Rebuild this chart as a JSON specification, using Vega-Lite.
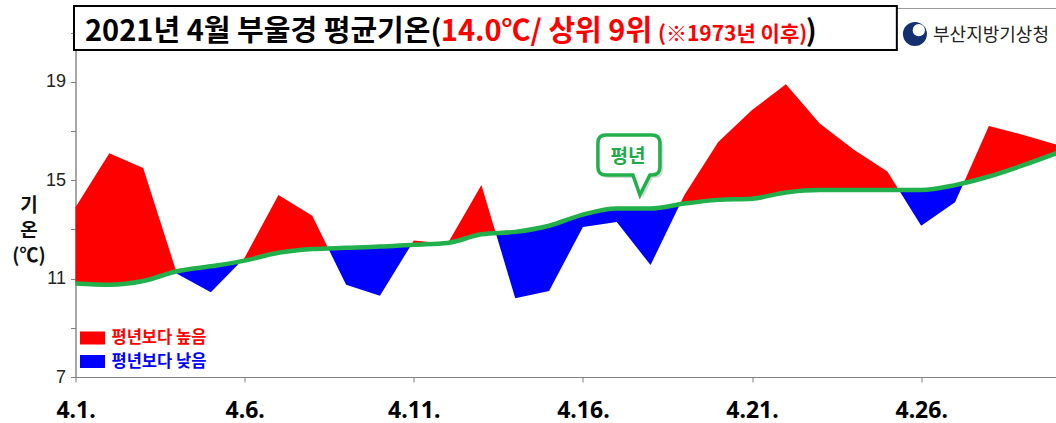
{
  "$schema": "https://vega.github.io/schema/vega-lite/v6.json",
  "width": 981,
  "height": 369,
  "autosize": {"type": "none"},
  "padding": {"left": 75.5, "top": 8, "right": 0, "bottom": 46},
  "background": "white",
  "config": {"view": {"stroke": "#9a9a9a", "strokeWidth": 1}, "font": "Noto Sans CJK KR"},
  "datasets": {
    "daily": [
      {"day": 1, "actual": 13.9, "normal": 10.8},
      {"day": 2, "actual": 16.1, "normal": 10.75},
      {"day": 3, "actual": 15.5, "normal": 10.9},
      {"day": 4, "actual": 11.2, "normal": 11.3},
      {"day": 5, "actual": 10.45, "normal": 11.5},
      {"day": 6, "actual": 11.85, "normal": 11.73},
      {"day": 7, "actual": 14.4, "normal": 12.05},
      {"day": 8, "actual": 13.55, "normal": 12.2},
      {"day": 9, "actual": 10.75, "normal": 12.25},
      {"day": 10, "actual": 10.3, "normal": 12.3},
      {"day": 11, "actual": 12.55, "normal": 12.38},
      {"day": 12, "actual": 12.42, "normal": 12.45},
      {"day": 13, "actual": 14.8, "normal": 12.8},
      {"day": 14, "actual": 10.2, "normal": 12.9},
      {"day": 15, "actual": 10.5, "normal": 13.15},
      {"day": 16, "actual": 13.1, "normal": 13.6},
      {"day": 17, "actual": 13.3, "normal": 13.85},
      {"day": 18, "actual": 11.55, "normal": 13.85},
      {"day": 19, "actual": 14.4, "normal": 14.05},
      {"day": 20, "actual": 16.55, "normal": 14.2},
      {"day": 21, "actual": 17.85, "normal": 14.25},
      {"day": 22, "actual": 18.9, "normal": 14.5},
      {"day": 23, "actual": 17.3, "normal": 14.6},
      {"day": 24, "actual": 16.25, "normal": 14.6},
      {"day": 25, "actual": 15.35, "normal": 14.6},
      {"day": 26, "actual": 13.15, "normal": 14.6},
      {"day": 27, "actual": 14.1, "normal": 14.8},
      {"day": 28, "actual": 17.2, "normal": 15.15},
      {"day": 29, "actual": 16.85, "normal": 15.6},
      {"day": 30, "actual": 16.45, "normal": 16.1}
    ],
    "bands": [
      {"seg": "A", "kind": "평년보다 높음", "day": 1, "actual": 13.9, "normal": 10.8},
      {"seg": "A", "kind": "평년보다 높음", "day": 2, "actual": 16.1, "normal": 10.75},
      {"seg": "A", "kind": "평년보다 높음", "day": 3, "actual": 15.5, "normal": 10.9},
      {"seg": "A", "kind": "평년보다 높음", "day": 3.979, "actual": 11.29, "normal": 11.29},
      {"seg": "B", "kind": "평년보다 낮음", "day": 3.979, "actual": 11.29, "normal": 11.29},
      {"seg": "B", "kind": "평년보다 낮음", "day": 4, "actual": 11.2, "normal": 11.3},
      {"seg": "B", "kind": "평년보다 낮음", "day": 5, "actual": 10.45, "normal": 11.5},
      {"seg": "B", "kind": "평년보다 낮음", "day": 5.897, "actual": 11.71, "normal": 11.71},
      {"seg": "C", "kind": "평년보다 높음", "day": 5.897, "actual": 11.71, "normal": 11.71},
      {"seg": "C", "kind": "평년보다 높음", "day": 6, "actual": 11.85, "normal": 11.73},
      {"seg": "C", "kind": "평년보다 높음", "day": 7, "actual": 14.4, "normal": 12.05},
      {"seg": "C", "kind": "평년보다 높음", "day": 8, "actual": 13.55, "normal": 12.2},
      {"seg": "C", "kind": "평년보다 높음", "day": 8.474, "actual": 12.22, "normal": 12.22},
      {"seg": "D", "kind": "평년보다 낮음", "day": 8.474, "actual": 12.22, "normal": 12.22},
      {"seg": "D", "kind": "평년보다 낮음", "day": 9, "actual": 10.75, "normal": 12.25},
      {"seg": "D", "kind": "평년보다 낮음", "day": 10, "actual": 10.3, "normal": 12.3},
      {"seg": "D", "kind": "평년보다 낮음", "day": 10.922, "actual": 12.37, "normal": 12.37},
      {"seg": "E", "kind": "평년보다 높음", "day": 10.922, "actual": 12.37, "normal": 12.37},
      {"seg": "E", "kind": "평년보다 높음", "day": 11, "actual": 12.55, "normal": 12.38},
      {"seg": "E", "kind": "평년보다 높음", "day": 11.85, "actual": 12.44, "normal": 12.44},
      {"seg": "F", "kind": "평년보다 낮음", "day": 11.85, "actual": 12.44, "normal": 12.44},
      {"seg": "F", "kind": "평년보다 낮음", "day": 12, "actual": 12.42, "normal": 12.45},
      {"seg": "F", "kind": "평년보다 낮음", "day": 12.015, "actual": 12.455, "normal": 12.455},
      {"seg": "G", "kind": "평년보다 높음", "day": 12.015, "actual": 12.455, "normal": 12.455},
      {"seg": "G", "kind": "평년보다 높음", "day": 13, "actual": 14.8, "normal": 12.8},
      {"seg": "G", "kind": "평년보다 높음", "day": 13.426, "actual": 12.84, "normal": 12.84},
      {"seg": "H", "kind": "평년보다 낮음", "day": 13.426, "actual": 12.84, "normal": 12.84},
      {"seg": "H", "kind": "평년보다 낮음", "day": 14, "actual": 10.2, "normal": 12.9},
      {"seg": "H", "kind": "평년보다 낮음", "day": 15, "actual": 10.5, "normal": 13.15},
      {"seg": "H", "kind": "평년보다 낮음", "day": 16, "actual": 13.1, "normal": 13.6},
      {"seg": "H", "kind": "평년보다 낮음", "day": 17, "actual": 13.3, "normal": 13.85},
      {"seg": "H", "kind": "평년보다 낮음", "day": 18, "actual": 11.55, "normal": 13.85},
      {"seg": "H", "kind": "평년보다 낮음", "day": 18.868, "actual": 14.02, "normal": 14.02},
      {"seg": "I", "kind": "평년보다 높음", "day": 18.868, "actual": 14.02, "normal": 14.02},
      {"seg": "I", "kind": "평년보다 높음", "day": 19, "actual": 14.4, "normal": 14.05},
      {"seg": "I", "kind": "평년보다 높음", "day": 20, "actual": 16.55, "normal": 14.2},
      {"seg": "I", "kind": "평년보다 높음", "day": 21, "actual": 17.85, "normal": 14.25},
      {"seg": "I", "kind": "평년보다 높음", "day": 22, "actual": 18.9, "normal": 14.5},
      {"seg": "I", "kind": "평년보다 높음", "day": 23, "actual": 17.3, "normal": 14.6},
      {"seg": "I", "kind": "평년보다 높음", "day": 24, "actual": 16.25, "normal": 14.6},
      {"seg": "I", "kind": "평년보다 높음", "day": 25, "actual": 15.35, "normal": 14.6},
      {"seg": "I", "kind": "평년보다 높음", "day": 25.341, "actual": 14.6, "normal": 14.6},
      {"seg": "J", "kind": "평년보다 낮음", "day": 25.341, "actual": 14.6, "normal": 14.6},
      {"seg": "J", "kind": "평년보다 낮음", "day": 26, "actual": 13.15, "normal": 14.6},
      {"seg": "J", "kind": "평년보다 낮음", "day": 27, "actual": 14.1, "normal": 14.8},
      {"seg": "J", "kind": "평년보다 낮음", "day": 27.255, "actual": 14.89, "normal": 14.89},
      {"seg": "K", "kind": "평년보다 높음", "day": 27.255, "actual": 14.89, "normal": 14.89},
      {"seg": "K", "kind": "평년보다 높음", "day": 28, "actual": 17.2, "normal": 15.15},
      {"seg": "K", "kind": "평년보다 높음", "day": 29, "actual": 16.85, "normal": 15.6},
      {"seg": "K", "kind": "평년보다 높음", "day": 30, "actual": 16.45, "normal": 16.1}
    ]
  },
  "layer": [
    {
      "data": {"name": "bands"},
      "mark": {"type": "area", "interpolate": "linear", "opacity": 1, "strokeWidth": 0},
      "encoding": {
        "x": {
          "field": "day", "type": "quantitative",
          "scale": {"domain": [1, 30], "nice": false, "zero": false},
          "axis": {
            "values": [1, 6, 11, 16, 21, 26],
            "labelExpr": "'4.' + datum.value + '.'",
            "title": null, "grid": false, "labelFlush": false, "labelOverlap": false,
            "labelFont": "Noto Sans", "labelFontSize": 23, "labelFontWeight": "bold", "labelColor": "#000000",
            "labelPadding": 17, "tickSize": 5, "tickColor": "#808080", "domainColor": "#808080"
          }
        },
        "y": {
          "field": "actual", "type": "quantitative", "stack": null,
          "scale": {"domain": [7, 22], "nice": false, "zero": false},
          "axis": {
            "values": [7, 9, 11, 13, 15, 17, 19, 21],
            "labelExpr": "(datum.value - 7) % 4 === 0 ? datum.label : ''",
            "grid": false, "labelOverlap": false,
            "labelFont": "Liberation Sans", "labelFontSize": 18, "labelColor": "#222222",
            "labelPadding": 5, "tickSize": 5, "tickColor": "#808080", "domainColor": "#808080",
            "title": ["기", "온", "(℃)"],
            "titleAngle": 0, "titleAlign": "center", "titleBaseline": "top",
            "titleX": -47, "titleY": 188,
            "titleFont": "Noto Sans CJK KR", "titleFontSize": 19, "titleFontWeight": "bold",
            "titleLineHeight": 25, "titleColor": "#111111"
          }
        },
        "y2": {"field": "normal"},
        "color": {
          "field": "kind", "type": "nominal",
          "scale": {"domain": ["평년보다 높음", "평년보다 낮음"], "range": ["#ff0000", "#0000ff"]},
          "legend": {
            "title": null, "orient": "bottom-left", "offset": 7,
            "symbolType": "M-1.25,-0.65H1.25V0.65H-1.25Z", "symbolSize": 400,
            "symbolStrokeWidth": 0, "symbolOpacity": 1,
            "labelFont": "Noto Sans CJK KR", "labelFontSize": 16.5, "labelFontWeight": "bold",
            "labelOffset": 9, "rowPadding": 4.5, "padding": 0, "labelLimit": 300,
            "encode": {"labels": {"update": {"fill": {"signal": "datum.value === '평년보다 높음' ? '#ff0000' : '#0000ff'"}}}}
          }
        },
        "detail": {"field": "seg"}
      }
    },
    {
      "data": {"name": "daily"},
      "mark": {"type": "line", "interpolate": "monotone", "color": "#21b04b", "strokeWidth": 4.5},
      "encoding": {
        "x": {"field": "day", "type": "quantitative"},
        "y": {"field": "normal", "type": "quantitative"}
      }
    },
    {
      "data": {"values": [{"label": "평년"}]},
      "mark": {"type": "point", "shape": "M-0.742,-0.968L0.742,-0.968Q1,-0.968,1,-0.71L1,0.065Q1,0.323,0.742,0.323L0.677,0.323L0.355,0.968L0.129,0.323L-0.742,0.323Q-1,0.323,-1,0.065L-1,-0.71Q-1,-0.968,-0.742,-0.968Z", "size": 3844, "filled": true, "fill": "#b8b8b8", "opacity": 0.55, "strokeWidth": 0},
      "encoding": {
        "x": {"datum": 17.45, "type": "quantitative"},
        "y": {"datum": 15.5, "type": "quantitative"}
      }
    },
    {
      "data": {"values": [{"label": "평년"}]},
      "mark": {"type": "point", "shape": "M-0.742,-0.968L0.742,-0.968Q1,-0.968,1,-0.71L1,0.065Q1,0.323,0.742,0.323L0.677,0.323L0.355,0.968L0.129,0.323L-0.742,0.323Q-1,0.323,-1,0.065L-1,-0.71Q-1,-0.968,-0.742,-0.968Z", "size": 3844, "filled": true, "fill": "#ffffff", "stroke": "#21b04b", "strokeWidth": 3.5, "opacity": 1},
      "encoding": {
        "x": {"datum": 17.36, "type": "quantitative"},
        "y": {"datum": 15.62, "type": "quantitative"}
      }
    },
    {
      "data": {"values": [{"label": "평년"}]},
      "mark": {"type": "text", "font": "Noto Sans CJK KR", "fontWeight": "bold", "fontSize": 19, "color": "#21a94a", "align": "center", "baseline": "middle"},
      "encoding": {
        "text": {"field": "label"},
        "x": {"datum": 17.33, "type": "quantitative"},
        "y": {"datum": 15.96, "type": "quantitative"}
      }
    },
    {
      "data": {"values": [{"box": "title"}]},
      "mark": {"type": "rect", "fill": "#ffffff", "stroke": "#000000", "strokeWidth": 2},
      "encoding": {
        "x": {"datum": 0.956, "type": "quantitative"},
        "x2": {"datum": 25.28},
        "y": {"datum": 22.08, "type": "quantitative"},
        "y2": {"datum": 20.29}
      }
    },
    {
      "data": {"values": [{"label": "2021년 4월 부울경 평균기온("}]},
      "mark": {"type": "text", "font": "Noto Sans CJK KR", "fontWeight": "bold", "fontSize": 29, "color": "#000000", "align": "left", "baseline": "alphabetic"},
      "encoding": {
        "text": {"field": "label"},
        "x": {"datum": 1.281, "type": "quantitative"},
        "y": {"datum": 20.67, "type": "quantitative"}
      }
    },
    {
      "data": {"values": [{"label": "14.0℃/ 상위 9위"}]},
      "mark": {"type": "text", "font": "Noto Sans CJK KR", "fontWeight": "bold", "fontSize": 29, "color": "#ff0000", "align": "left", "baseline": "alphabetic"},
      "encoding": {
        "text": {"field": "label"},
        "x": {"datum": 11.8, "type": "quantitative"},
        "y": {"datum": 20.67, "type": "quantitative"}
      }
    },
    {
      "data": {"values": [{"label": "(※1973년 이후)"}]},
      "mark": {"type": "text", "font": "Noto Sans CJK KR", "fontWeight": "bold", "fontSize": 21, "color": "#ff0000", "align": "left", "baseline": "alphabetic"},
      "encoding": {
        "text": {"field": "label"},
        "x": {"datum": 18.22, "type": "quantitative"},
        "y": {"datum": 20.67, "type": "quantitative"}
      }
    },
    {
      "data": {"values": [{"label": ")"}]},
      "mark": {"type": "text", "font": "Noto Sans CJK KR", "fontWeight": "bold", "fontSize": 29, "color": "#000000", "align": "left", "baseline": "alphabetic"},
      "encoding": {
        "text": {"field": "label"},
        "x": {"datum": 22.59, "type": "quantitative"},
        "y": {"datum": 20.67, "type": "quantitative"}
      }
    },
    {
      "data": {"values": [{"logo": "outer"}]},
      "mark": {"type": "point", "shape": "circle", "size": 576, "filled": true, "fill": "#15306e", "opacity": 1, "strokeWidth": 0},
      "encoding": {
        "x": {"datum": 25.815, "type": "quantitative"},
        "y": {"datum": 20.94, "type": "quantitative"}
      }
    },
    {
      "data": {"values": [{"logo": "inner"}]},
      "mark": {"type": "point", "shape": "circle", "size": 150, "filled": true, "fill": "#ffffff", "opacity": 1, "strokeWidth": 0},
      "encoding": {
        "x": {"datum": 25.93, "type": "quantitative"},
        "y": {"datum": 21.1, "type": "quantitative"}
      }
    },
    {
      "data": {"values": [{"label": "부산지방기상청"}]},
      "mark": {"type": "text", "font": "Noto Sans CJK KR", "fontSize": 18, "color": "#222222", "align": "left", "baseline": "alphabetic"},
      "encoding": {
        "text": {"field": "label"},
        "x": {"datum": 26.35, "type": "quantitative"},
        "y": {"datum": 20.66, "type": "quantitative"}
      }
    }
  ]
}
